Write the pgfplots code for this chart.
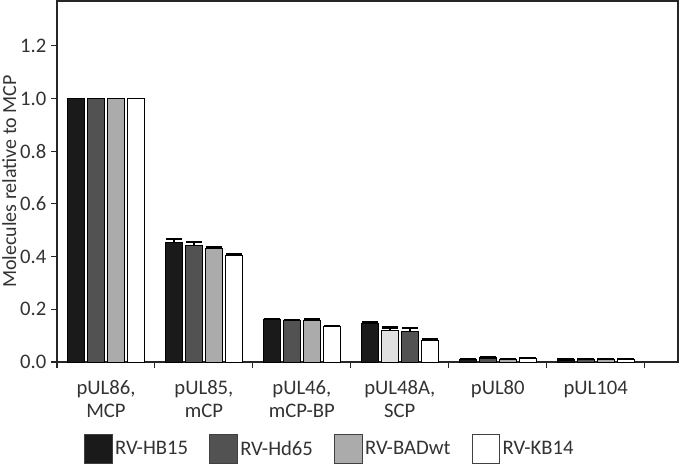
\documentclass[border=0pt]{standalone}
\usepackage{pgfplots}
\pgfplotsset{compat=1.18}
\usepackage{fontspec}
\setmainfont{Carlito}
\definecolor{c1}{HTML}{1A1A1A}
\definecolor{c2}{HTML}{525252}
\definecolor{c3}{HTML}{ABABAB}
\definecolor{c4}{HTML}{FFFFFF}
\definecolor{c5}{HTML}{E0E0E0}
\pgfplotsset{
 myleg/.style={legend image code/.code={\draw[##1, draw=black!75, line width=0.6pt] (0pt,-11pt) rectangle (20.5pt,11pt);}},
 myerr/.style={error bars/.cd, y dir=plus, y explicit,
   error bar style={line width=1.4pt, black},
   error mark options={rotate=90, mark size=6.2pt, line width=1.8pt, black}},
 mybar/.style={ybar, bar width=0.173, bar shift=0, fill=#1, draw=black, line width=0.6pt},
}
\begin{document}
\begin{tikzpicture}
\path[use as bounding box] (-42.75pt,-78pt) rectangle (467.25pt,271.5pt);
\begin{axis}[name=ax, at={(0,0)}, anchor=south west,
 scale only axis, width=465.75pt, height=270.75pt,
 xmin=-0.5, xmax=5.84, ymin=0, ymax=1.37,
 axis line style={draw=black!85, line width=0.8pt},
 xtick={0,1,2,3,4,5},
 xticklabels={{pUL86,\\MCP},{pUL85,\\mCP},{pUL46,\\mCP-BP},{pUL48A,\\SCP},{pUL80},{pUL104}},
 xticklabel style={align=center, font=\fontsize{15.5}{17}\selectfont, text=black!80, yshift=-6pt},
 major x tick style={draw=none},
 major tick length=4.5pt,
 tick align=outside, xtick pos=bottom, ytick pos=left,
 major y tick style={draw=black!85, line width=0.8pt},
 ytick={0,0.2,0.4,0.6,0.8,1.0,1.2},
 yticklabel style={font=\fontsize{15.5}{17}\selectfont, text=black!80,
   /pgf/number format/fixed, /pgf/number format/fixed zerofill,
   /pgf/number format/precision=1, /pgf/number format/assume math mode=true},
 ylabel={Molecules relative to MCP},
 ylabel style={font=\fontsize{15}{17}\selectfont, text=black!80, at={(axis description cs:-0.077,0.5)}, anchor=center},
 legend style={at={(0.44,-0.241)}, anchor=center, draw=none, legend columns=4,
   font=\fontsize{15.5}{17}\selectfont, text=black!80,
   /tikz/every odd column/.append style={column sep=0pt},
   /tikz/every even column/.append style={column sep=14pt}},
 clip=false,
]
% legend entries (group 1, no error bars)
\addplot[mybar=c1, myleg] coordinates {(-0.306,1.0)};
\addlegendentry{RV-HB15}
\addplot[mybar=c2, myleg] coordinates {(-0.102,1.0)};
\addlegendentry{RV-Hd65}
\addplot[mybar=c3, myleg] coordinates {(0.102,1.0)};
\addlegendentry{RV-BADwt}
\addplot[mybar=c4, myleg] coordinates {(0.306,1.0)};
\addlegendentry{RV-KB14}
% other groups with error bars (x = group index + bar offset)
\addplot[forget plot, mybar=c1, myerr]
 coordinates {(0.694,0.454) +- (0,0.012) (1.694,0.160) +- (0,0.003) (2.694,0.146) +- (0,0.004) (3.694,0.011) +- (0,0.001) (4.694,0.009) +- (0,0.001)};
\addplot[forget plot, mybar=c2, myerr]
 coordinates {(0.898,0.444) +- (0,0.011) (1.898,0.156) +- (0,0.003) (3.898,0.016) +- (0,0.001) (4.898,0.011) +- (0,0.001)};
\addplot[forget plot, mybar=c5, myerr]
 coordinates {(2.898,0.119) +- (0,0.012)};
\addplot[forget plot, mybar=c3, myerr]
 coordinates {(1.102,0.430) +- (0,0.005) (2.102,0.157) +- (0,0.005) (4.102,0.010) +- (0,0.001) (5.102,0.011) +- (0,0.001)};
\addplot[forget plot, mybar=c2, myerr]
 coordinates {(3.102,0.118) +- (0,0.011)};
\addplot[forget plot, mybar=c4, myerr]
 coordinates {(1.306,0.403) +- (0,0.007) (2.306,0.134) +- (0,0.003) (3.306,0.083) +- (0,0.005) (4.306,0.015) +- (0,0.001) (5.306,0.010) +- (0,0.001)};
% category separator ticks below the x axis
\draw[black!85, line width=0.8pt] (axis cs:-0.5,0) -- ([yshift=-4.5pt]axis cs:-0.5,0);
\draw[black!85, line width=0.8pt] (axis cs:0.5,0) -- ([yshift=-4.5pt]axis cs:0.5,0);
\draw[black!85, line width=0.8pt] (axis cs:1.5,0) -- ([yshift=-4.5pt]axis cs:1.5,0);
\draw[black!85, line width=0.8pt] (axis cs:2.5,0) -- ([yshift=-4.5pt]axis cs:2.5,0);
\draw[black!85, line width=0.8pt] (axis cs:3.5,0) -- ([yshift=-4.5pt]axis cs:3.5,0);
\draw[black!85, line width=0.8pt] (axis cs:4.5,0) -- ([yshift=-4.5pt]axis cs:4.5,0);
\draw[black!85, line width=0.8pt] (axis cs:5.5,0) -- ([yshift=-4.5pt]axis cs:5.5,0);
\end{axis}
\end{tikzpicture}
\end{document}
